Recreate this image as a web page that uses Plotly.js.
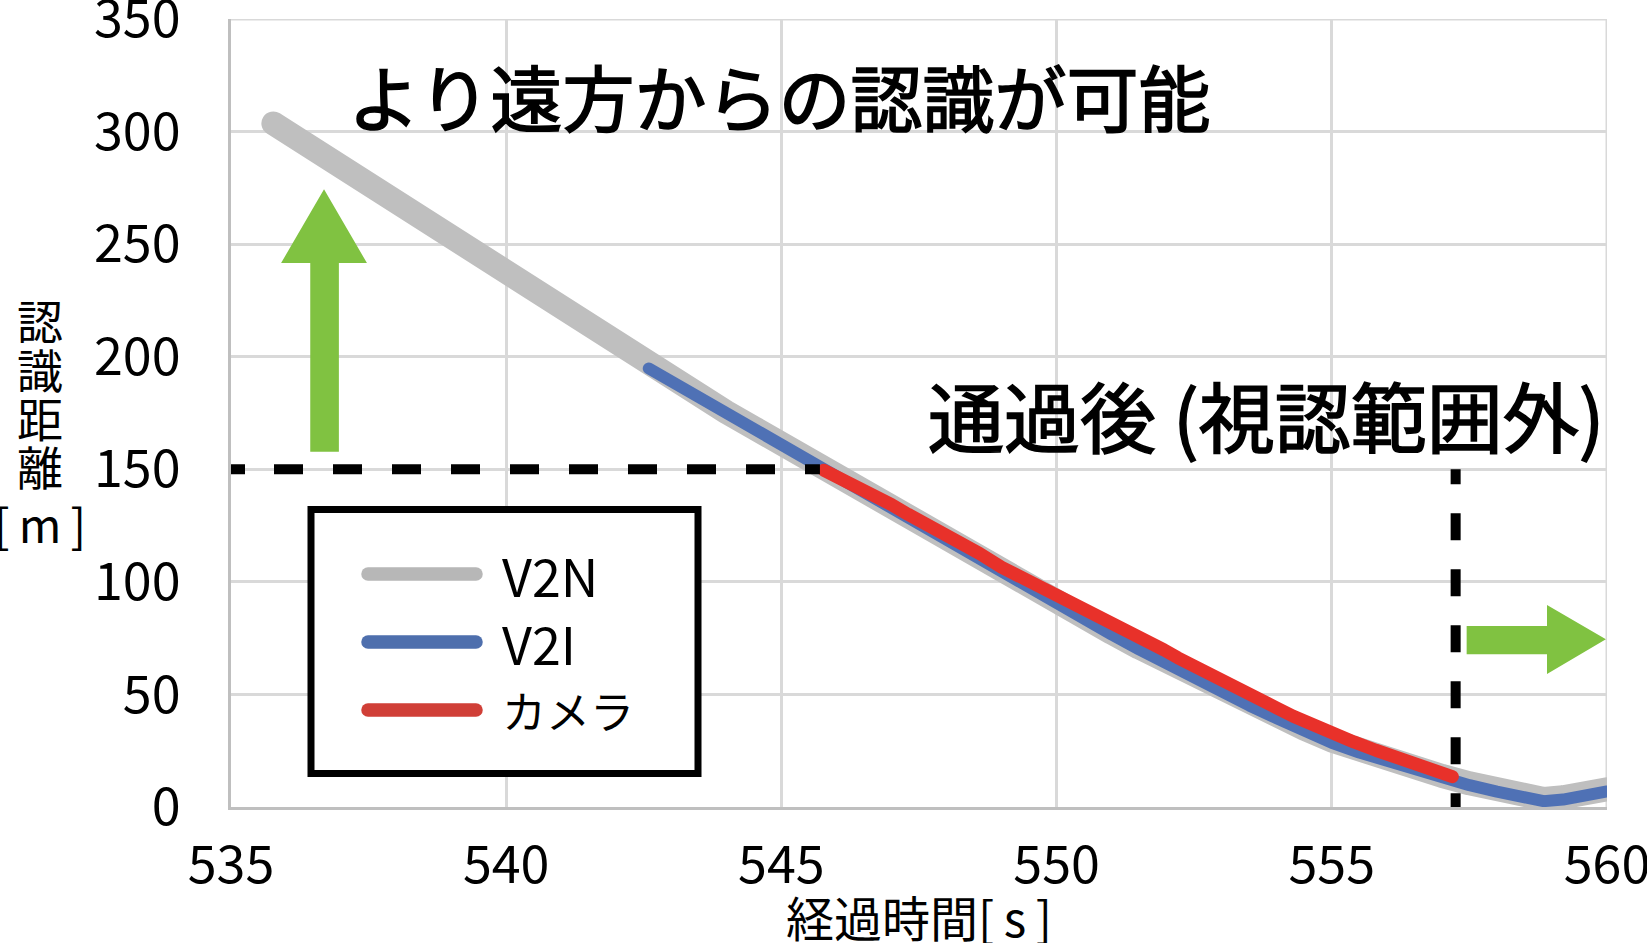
<!DOCTYPE html>
<html><head><meta charset="utf-8">
<script src="https://cdn.plot.ly/plotly-3.0.1.min.js"></script>
<style>
html,body{margin:0;padding:0;background:#fff;}
#chart{width:1647px;height:943px;}
.scatterlayer .js-line{stroke-linecap:round !important;stroke-linejoin:round !important;}
.shapelayer path[style*="stroke-width: 13.5px"]{stroke-linecap:round !important;}
text.annotation-text[data-unformatted^="より"],
text.annotation-text[data-unformatted^="通過"]{stroke:#000;stroke-width:1.6px;}
</style></head><body><div id="chart"></div><script>
// ---- data ----
const X_TICKS = [535, 540, 545, 550, 555, 560];
const Y_TICKS = [0, 50, 100, 150, 200, 250, 300, 350];

const V2N_T = [535.77,536.0,536.5,537.0,537.5,538.0,538.5,539.0,539.5,540.0,540.5,541.0,541.5,542.0,542.5,543.0,543.5,544.0,544.5,545.0,545.5,546.0,546.5,547.0,547.5,548.0,548.5,549.0,549.5,550.0,550.5,551.0,551.5,552.0,552.5,553.0,553.5,554.0,554.5,555.0,555.5,556.0,556.5,557.0,557.5,558.0,558.5,558.85,559.2,559.6,560.0];
const V2N_D = [303.6,300.0,292.0,284.1,276.2,268.3,260.3,252.3,244.2,236.1,228.0,219.9,211.9,203.9,196.2,189.2,182.3,175.4,168.4,161.2,154.1,147.0,139.9,132.8,125.7,118.6,111.5,104.4,97.5,90.8,84.1,77.4,70.8,64.3,58.0,51.9,46.0,40.3,34.8,29.5,25.1,21.2,17.4,13.8,10.5,7.6,5.1,3.6,4.3,5.9,7.9];

const V2I_T = [542.59,543.0,543.5,544.0,544.5,545.0,545.5,546.0,546.5,547.0,547.5,548.0,548.5,549.0,549.5,550.0,550.5,551.0,551.5,552.0,552.5,553.0,553.5,554.0,554.5,555.0,555.5,556.0,556.5,557.0,557.5,558.0,558.5,558.85,559.2,559.6,560.0];
const V2I_D = [194.8,189.0,182.0,175.0,168.0,160.8,153.6,146.5,139.3,132.2,125.0,117.9,110.8,103.7,96.8,90.0,83.3,76.6,70.0,63.4,57.1,51.0,45.1,39.4,33.8,28.5,24.2,20.3,16.6,13.0,9.7,6.8,4.3,2.6,3.3,4.9,6.9];

const CAM_T = [545.77,546.0,546.3,546.6,547.0,547.3,547.6,548.0,548.3,548.6,549.0,549.3,549.6,550.0,550.3,550.6,551.0,551.3,551.6,551.85,551.95,552.2,552.6,553.0,553.4,553.8,554.0,554.3,554.7,555.0,555.4,555.8,556.2,556.6,556.9,557.19];
const CAM_D = [149.6,147.0,143.5,139.6,134.3,130.0,126.2,121.0,117.0,112.6,106.5,102.8,99.0,94.5,91.0,87.2,82.0,78.3,75.2,72.5,69.8,66.3,61.0,56.0,50.8,45.9,44.0,40.3,35.8,32.5,28.9,25.2,21.8,19.0,16.2,13.5];

const SERIES_NAMES = ['V2N', 'V2I', 'カメラ'];
const LINE_COLORS = ['#bfbfbf', '#4f71b5', '#e8312a'];
const LEGEND_COLORS = ['#b7b7b7', '#4e6fad', '#d03f37'];

// ---- layout helpers ----
const FONT = '"Noto Sans CJK JP", "Noto Sans", sans-serif';
const W = 1647, H = 943, M = {l: 231, r: 40, t: 19, b: 136};
const PW = W - M.l - M.r, PH = H - M.t - M.b;
const px2x = p => (p - M.l) / PW;
const py2y = p => (H - M.b - p) / PH;

const traces = [
  {x: V2N_T, y: V2N_D, name: SERIES_NAMES[0], mode: 'lines', line: {color: LINE_COLORS[0], width: 24}},
  {x: V2I_T, y: V2I_D, name: SERIES_NAMES[1], mode: 'lines', line: {color: LINE_COLORS[1], width: 12}},
  {x: CAM_T, y: CAM_D, name: SERIES_NAMES[2], mode: 'lines', line: {color: LINE_COLORS[2], width: 13}}
];

const green = '#80c241';
const grid = '#d9d9d9';
const shapes = [
  {type: 'line', xref: 'x', yref: 'y', x0: 535, x1: 560, y0: 350, y1: 350, layer: 'below', line: {color: grid, width: 3}},
  {type: 'line', xref: 'x', yref: 'y', x0: 560, x1: 560, y0: 0, y1: 350, layer: 'below', line: {color: grid, width: 3}},
  {type: 'line', xref: 'x', yref: 'y', x0: 535, x1: 545.7, y0: 150, y1: 150, layer: 'above',
   line: {color: '#000', width: 10, dash: '14px,29px,29px,30px,29px,30px,29px,30px,29px,30px,29px,30px,29px,30px,29px,30px,29px,30px,29px,30px,15px,40px'}},
  {type: 'line', xref: 'x', yref: 'y', x0: 557.25, x1: 557.25, y0: 150, y1: 0, layer: 'above',
   line: {color: '#000', width: 10, dash: '15px,29px,27px,29px,27px,29px,27px,29px,27px,29px,27px,29px,27px,29px'}},
  {type: 'path', xref: 'x', yref: 'y', layer: 'above', fillcolor: green, line: {width: 0},
   path: 'M 536.44,157.8 L 536.96,157.8 L 536.96,241.6 L 537.47,241.6 L 536.69,274.4 L 535.91,241.6 L 536.44,241.6 Z'},
  {type: 'path', xref: 'x', yref: 'y', layer: 'above', fillcolor: green, line: {width: 0},
   path: 'M 557.45,67.9 L 558.91,67.9 L 558.91,59.1 L 559.98,74.5 L 558.91,89.7 L 558.91,80.4 L 557.45,80.4 Z'},
  {type: 'rect', xref: 'paper', yref: 'paper', layer: 'above',
   x0: px2x(311), x1: px2x(698), y0: py2y(509.5), y1: py2y(773.5),
   fillcolor: '#ffffff', line: {color: '#000', width: 7}}
];
const LEG_Y = [574, 642, 710];
LEG_Y.forEach((yy, i) => {
  shapes.push({type: 'line', xref: 'paper', yref: 'paper', layer: 'above',
    x0: px2x(368), x1: px2x(476), y0: py2y(yy), y1: py2y(yy),
    line: {color: LEGEND_COLORS[i], width: 13.5}});
});

// vertical y-axis title: first line centred at YT_FIRST px, lines then re-spaced
const YT_SIZE = 46, YT_LINES = 5;
const YT_FIRST = 319;
const YT_OFFS = [0, 49, 98, 146, 204];
const ytCenter = YT_FIRST + (YT_LINES - 1) * 1.3 * YT_SIZE / 2;

const annotations = [
  {text: 'より遠方からの認識が可能', xref: 'paper', yref: 'paper', x: px2x(779), y: py2y(94),
   xanchor: 'center', yanchor: 'middle', showarrow: false,
   font: {family: FONT, size: 72, color: '#000'}},
  {text: '通過後 (視認範囲外)', xref: 'paper', yref: 'paper', x: px2x(1606), y: py2y(414),
   xanchor: 'right', yanchor: 'middle', showarrow: false,
   font: {family: FONT, size: 76, color: '#000'}},
  {text: '認<br>識<br>距<br>離<br>[\u2009m\u2009]', xref: 'paper', yref: 'paper', x: px2x(40), y: py2y(ytCenter),
   xanchor: 'center', yanchor: 'middle', align: 'center', showarrow: false,
   font: {family: FONT, size: YT_SIZE, color: '#000'}}
];
SERIES_NAMES.forEach((n, i) => {
  annotations.push({text: n, xref: 'paper', yref: 'paper', x: px2x(500), y: py2y(LEG_Y[i]),
    xanchor: 'left', yanchor: 'middle', showarrow: false,
    font: {family: FONT, size: i === 2 ? 44 : 52, color: '#000'}});
});

const layout = {
  width: W, height: H, margin: M,
  paper_bgcolor: '#fff', plot_bgcolor: '#fff',
  showlegend: false,
  font: {family: FONT, color: '#000'},
  xaxis: {
    range: [535, 560], tickvals: X_TICKS, ticktext: X_TICKS.map(String),
    showgrid: true, gridcolor: grid, gridwidth: 3,
    showline: true, linecolor: '#bfbfbf', linewidth: 3, zeroline: false,
    ticks: '', ticklabelstandoff: 11, ticklabeloverflow: 'allow',
    tickfont: {family: FONT, size: 52, color: '#000'},
    title: {text: '経過時間[\u2009s\u2009]', font: {family: FONT, size: 48, color: '#000'}, standoff: 10}
  },
  yaxis: {
    range: [0, 350], tickvals: Y_TICKS, ticktext: Y_TICKS.map(String),
    showgrid: true, gridcolor: grid, gridwidth: 3,
    showline: true, linecolor: '#bfbfbf', linewidth: 3, zeroline: false,
    ticks: '', ticklabelstandoff: 37, ticklabeloverflow: 'allow',
    tickfont: {family: FONT, size: 52, color: '#000'}
  },
  shapes: shapes,
  annotations: annotations
};

Plotly.newPlot('chart', traces, layout, {displayModeBar: false, staticPlot: true}).then(gd => {
  // tighten the line pitch of the stacked y-axis title
  gd.querySelectorAll('text.annotation-text').forEach(t => {
    const u = t.getAttribute('data-unformatted') || '';
    if (u.startsWith('認')) {
      t.querySelectorAll('tspan.line').forEach((ts, i) => ts.setAttribute('dy', YT_OFFS[i] + 'px'));
    }
  });
  // nudge the x-axis title down to the reference position (it is held inside the margin)
  const xt = gd.querySelector('.g-xtitle text');
  if (xt) xt.setAttribute('y', (parseFloat(xt.getAttribute('y')) + 8).toString());
});
</script></body></html>
